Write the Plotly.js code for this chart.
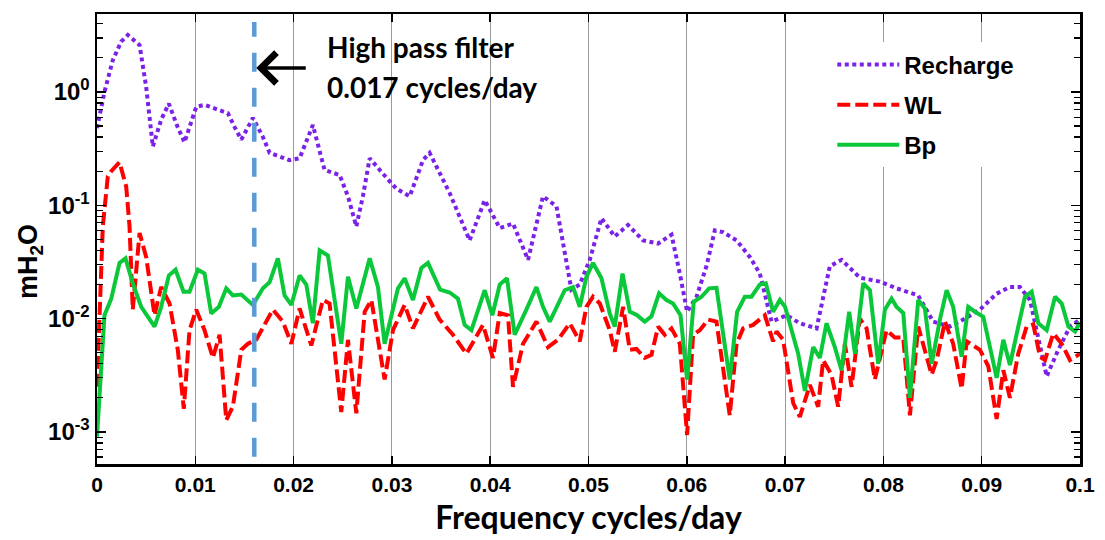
<!DOCTYPE html>
<html>
<head>
<meta charset="utf-8">
<script src="https://cdn.plot.ly/plotly-3.0.1.min.js"></script>
<style>html,body{margin:0;padding:0;background:#fff;}#chart{width:1105px;height:540px;}</style>
</head>
<body>
<div id="chart"></div>
<script>
// Frequency (cycles/day) and amplitude (mH2O)
const rechargeF = [0,0.00076,0.0016,0.00246,0.00313,0.00433,0.005,0.00568,0.00653,0.00731,0.00812,0.0089,0.0101,0.01094,0.01247,0.01331,0.014,0.01468,0.01586,0.01688,0.01756,0.01857,0.01959,0.02061,0.02196,0.02315,0.02468,0.02553,0.02638,0.02705,0.02774,0.02909,0.03045,0.03181,0.03316,0.03384,0.03486,0.03588,0.03791,0.03944,0.04097,0.04232,0.04385,0.04537,0.04674,0.04826,0.04911,0.05013,0.05132,0.05267,0.05402,0.05555,0.05708,0.05844,0.05929,0.06003,0.06099,0.062,0.06285,0.06369,0.06506,0.06641,0.06743,0.06811,0.06862,0.07015,0.0715,0.0732,0.07455,0.07575,0.0776,0.07964,0.08134,0.08354,0.08507,0.08677,0.08812,0.08982,0.09152,0.09287,0.09389,0.09491,0.09576,0.09661,0.09779,0.09898,0.1];
const rechargeV = [0.48,1.0,1.9,2.78,3.18,2.6,1.11,0.33,0.57,0.79,0.51,0.36,0.74,0.77,0.69,0.65,0.49,0.38,0.59,0.40,0.29,0.27,0.25,0.26,0.51,0.205,0.185,0.12,0.065,0.12,0.26,0.19,0.14,0.12,0.25,0.29,0.19,0.128,0.049,0.111,0.063,0.069,0.033,0.12,0.098,0.018,0.020,0.033,0.077,0.053,0.067,0.049,0.046,0.055,0.025,0.0115,0.0156,0.029,0.06,0.058,0.049,0.035,0.025,0.0146,0.0094,0.0107,0.0091,0.0082,0.029,0.033,0.023,0.0212,0.0185,0.016,0.0094,0.0085,0.0098,0.012,0.0166,0.019,0.019,0.0146,0.0069,0.0031,0.0053,0.0085,0.0098];

const wlF = [0,0.00059,0.0011,0.00145,0.00229,0.00297,0.00331,0.00364,0.00433,0.005,0.00585,0.00653,0.00738,0.00822,0.00883,0.00941,0.0101,0.01094,0.01179,0.01247,0.01315,0.01382,0.01468,0.01535,0.0162,0.01789,0.01891,0.01977,0.02061,0.0218,0.02298,0.02366,0.02485,0.02553,0.02638,0.02723,0.02791,0.02926,0.03011,0.0313,0.03214,0.03367,0.03486,0.03621,0.03758,0.03927,0.04028,0.04097,0.04181,0.04232,0.04334,0.0447,0.04588,0.0469,0.04809,0.04911,0.04979,0.05046,0.05115,0.05216,0.05267,0.05352,0.0542,0.05488,0.05572,0.05641,0.05708,0.05776,0.05844,0.05929,0.06003,0.06064,0.06132,0.06217,0.06302,0.06437,0.06506,0.06573,0.06675,0.06794,0.06878,0.06913,0.0698,0.07082,0.0715,0.07252,0.07336,0.07387,0.07472,0.0754,0.07608,0.07676,0.0776,0.07829,0.07913,0.08032,0.08117,0.08202,0.0827,0.08354,0.08491,0.08542,0.08626,0.0871,0.08796,0.08847,0.08982,0.09067,0.09152,0.0922,0.09287,0.09372,0.09457,0.09525,0.09593,0.09644,0.09728,0.09814,0.09898,0.1];
const wlV = [0.0025,0.065,0.18,0.20,0.24,0.146,0.065,0.012,0.057,0.035,0.0107,0.019,0.0136,0.0053,0.0016,0.0079,0.012,0.0079,0.0045,0.0072,0.00127,0.00167,0.0053,0.006,0.0065,0.012,0.0094,0.006,0.0123,0.0058,0.0146,0.0136,0.0015,0.0065,0.00146,0.0115,0.0146,0.0029,0.0079,0.0132,0.0082,0.0156,0.0098,0.0072,0.0049,0.0088,0.0045,0.0112,0.0107,0.0025,0.006,0.0094,0.0056,0.0065,0.0091,0.0063,0.0127,0.0156,0.0136,0.0079,0.0051,0.0127,0.0053,0.0054,0.0045,0.0048,0.0085,0.0072,0.0082,0.006,0.00094,0.0072,0.0079,0.0098,0.0094,0.0014,0.006,0.0082,0.0088,0.0107,0.0063,0.0077,0.0065,0.0018,0.00136,0.0026,0.00167,0.0043,0.0032,0.00167,0.006,0.0025,0.010,0.0082,0.0029,0.0079,0.0068,0.0068,0.0014,0.0085,0.0032,0.0043,0.0094,0.006,0.0024,0.0063,0.0053,0.0038,0.0013,0.0035,0.002,0.0049,0.0085,0.0089,0.0046,0.0043,0.0074,0.006,0.0043,0.0049];

const bpF = [0,0.00076,0.00145,0.00229,0.0029,0.00364,0.0045,0.00585,0.00653,0.00731,0.00799,0.0088,0.00941,0.01026,0.01094,0.01162,0.0124,0.01315,0.01382,0.01468,0.01586,0.01688,0.01756,0.0184,0.01908,0.01977,0.02061,0.02129,0.02196,0.02265,0.02349,0.02485,0.02553,0.02638,0.02774,0.02858,0.02926,0.03062,0.0313,0.03214,0.033,0.03367,0.0349,0.03588,0.03672,0.0374,0.03809,0.03944,0.04022,0.04097,0.04171,0.04249,0.04368,0.0447,0.04537,0.04606,0.04758,0.04843,0.04911,0.04979,0.05046,0.05132,0.05216,0.05267,0.05346,0.0542,0.05488,0.05572,0.05641,0.05718,0.05793,0.0586,0.05936,0.06003,0.06071,0.0615,0.06227,0.06302,0.06437,0.06512,0.0659,0.06658,0.06743,0.06804,0.06878,0.06947,0.0700,0.07133,0.07201,0.07286,0.07354,0.07421,0.07506,0.07574,0.07652,0.07711,0.07795,0.07863,0.07947,0.08015,0.08083,0.08134,0.08202,0.0827,0.08354,0.08422,0.08491,0.08575,0.08643,0.0871,0.08796,0.08863,0.08931,0.09016,0.09084,0.09152,0.0922,0.09287,0.09372,0.0944,0.09508,0.09576,0.09661,0.09746,0.09814,0.09882,0.0995,0.1];
const bpV = [0.00091,0.0107,0.015,0.031,0.034,0.0205,0.0127,0.0085,0.0127,0.024,0.027,0.0173,0.0173,0.027,0.025,0.0111,0.0127,0.0185,0.016,0.0163,0.0132,0.0185,0.021,0.034,0.016,0.0132,0.024,0.02,0.0091,0.04,0.036,0.006,0.0234,0.0123,0.034,0.019,0.006,0.0185,0.0227,0.0146,0.028,0.031,0.018,0.017,0.015,0.0088,0.0079,0.0178,0.0107,0.02,0.0227,0.0072,0.012,0.019,0.0127,0.0094,0.0178,0.019,0.0127,0.0234,0.031,0.0227,0.0111,0.0085,0.025,0.0115,0.0108,0.0094,0.0105,0.0167,0.0146,0.0136,0.0107,0.0029,0.0141,0.0156,0.0185,0.0187,0.0029,0.0115,0.0156,0.0156,0.02,0.0205,0.0115,0.0146,0.0127,0.0049,0.0023,0.0056,0.0045,0.0091,0.0056,0.0035,0.0115,0.0049,0.0205,0.0178,0.004,0.012,0.015,0.0127,0.0112,0.002,0.0146,0.0123,0.004,0.0098,0.0178,0.0127,0.0046,0.0127,0.0115,0.0104,0.0056,0.003,0.0065,0.0039,0.0085,0.0156,0.0173,0.0091,0.0079,0.0156,0.0136,0.0085,0.0077,0.0093];

const seriesNames = ['Recharge','WL','Bp'];
const yTickVals = [0.001,0.01,0.1,1];
const yTickText = ['10<sup>-3</sup>','10<sup>-2</sup>','10<sup>-1</sup>','10<sup>0</sup>'];
const filterFreq = 0.016;
const filterText1 = 'High pass filter';
const filterText2 = '0.017 cycles/day';

const minorVals = [];
for (let e = -4; e <= 1; e++) for (let m = 2; m <= 9; m++) minorVals.push(m * Math.pow(10, e));

const traces = [
  {x: rechargeF, y: rechargeV, name: seriesNames[0], mode: 'lines', legendgroup: 'a',
   line: {color: '#7b22e8', width: 4, dash: '4px,3.5px'}},
  {x: wlF, y: wlV, name: seriesNames[1], mode: 'lines', legendgroup: 'b',
   line: {color: '#ff0000', width: 4, dash: '13px,5px'}},
  {x: bpF, y: bpV, name: seriesNames[2], mode: 'lines', legendgroup: 'c',
   line: {color: '#0ac83a', width: 4}}
];

const bold = 'Arial, "Liberation Sans", sans-serif';
const layout = {
  width: 1105, height: 540,
  margin: {l: 97, r: 25, t: 14, b: 76},
  paper_bgcolor: '#fff', plot_bgcolor: '#fff',
  showlegend: true,
  legend: {x: 0.748, y: 0.937, xanchor: 'left', yanchor: 'top', bgcolor: '#fff',
           font: {family: bold, size: 24, color: '#000', weight: 'bold'},
           tracegroupgap: 6, traceorder: 'grouped', itemwidth: 62},
  xaxis: {range: [0, 0.1], dtick: 0.01, tick0: 0, ticks: 'inside', ticklen: 8, tickwidth: 1.5,
          tickcolor: '#000', mirror: 'ticks', showline: true, linewidth: 2.5, linecolor: '#000',
          showgrid: true, gridcolor: '#999', gridwidth: 1, zeroline: false,
          tickfont: {family: bold, size: 21, color: '#000', weight: 'bold'},
          title: {text: 'Frequency cycles/day', standoff: 12,
                  font: {family: 'Lato, "Open Sans", sans-serif', size: 32, color: '#000', weight: 'bold'}}},
  yaxis: {type: 'log', range: [-3.283, 0.688], tickmode: 'array', tickvals: yTickVals, ticktext: yTickText,
          ticks: 'inside', ticklen: 9, tickwidth: 1.5, tickcolor: '#000', mirror: 'ticks',
          showline: true, linewidth: 2.5, linecolor: '#000', showgrid: false, zeroline: false,
          tickfont: {family: bold, size: 24, color: '#000', weight: 'bold'},
          minor: {tickmode: 'array', tickvals: minorVals, ticks: 'inside', ticklen: 6, tickwidth: 1.2, tickcolor: '#000', showgrid: false}},
  shapes: [{type: 'line', xref: 'x', yref: 'paper', x0: filterFreq, x1: filterFreq, y0: 0.016, y1: 0.982,
            line: {color: '#5b9bd5', width: 4.5, dash: '19px,16px'}}],
  annotations: [
    {xref: 'paper', yref: 'paper', x: -0.068, y: 0.449, text: 'mH<sub>2</sub>O', showarrow: false,
     textangle: -90, xanchor: 'center', yanchor: 'middle',
     font: {family: bold, size: 27, color: '#000', weight: 'bold'}},
    {xref: 'x', yref: 'paper', x: 0.0162, y: 0.880, text: '', showarrow: true, ax: 51, ay: 0,
     arrowhead: 4, arrowsize: 1.7, arrowwidth: 3.5, arrowcolor: '#000'},
    {xref: 'paper', yref: 'paper', x: (325 - 97) / 983, y: (464 - 47) / 450, text: filterText1, showarrow: false,
     xanchor: 'left', yanchor: 'middle', font: {family: 'Lato, "Open Sans", sans-serif', size: 28, color: '#000', weight: 'bold'}},
    {xref: 'paper', yref: 'paper', x: (325 - 97) / 983, y: (464 - 87) / 450, text: filterText2, showarrow: false,
     xanchor: 'left', yanchor: 'middle', font: {family: 'Lato, "Open Sans", sans-serif', size: 28, color: '#000', weight: 'bold'}}
  ]
};

Plotly.newPlot('chart', traces, layout, {displayModeBar: false, staticPlot: true});
</script>
</body>
</html>
